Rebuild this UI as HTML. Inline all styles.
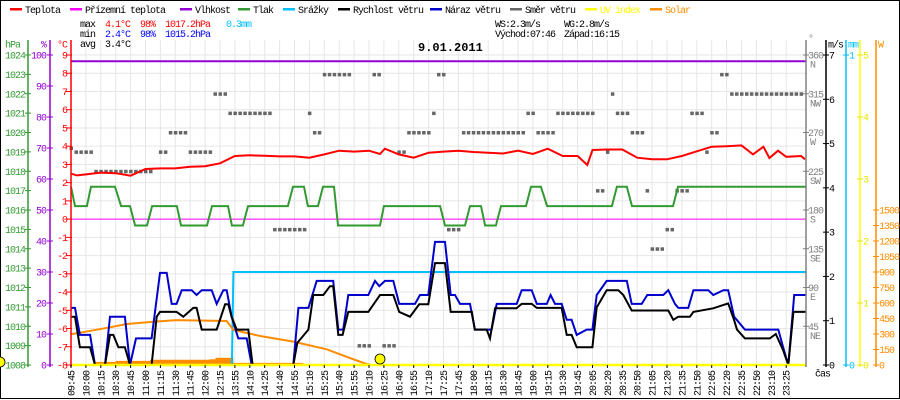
<!DOCTYPE html>
<html><head><meta charset="utf-8">
<style>
html,body{margin:0;padding:0;background:#fff;}
svg{display:block;}
text{font-family:"Liberation Mono",monospace;font-size:10px;letter-spacing:-1px;}
</style></head>
<body>
<svg id="chart" width="900" height="400" viewBox="0 0 900 400" xmlns="http://www.w3.org/2000/svg">
<rect x="0.5" y="0.5" width="899" height="398" fill="#fff" stroke="#000"/>
<g id="grid"></g>
<g id="series"></g>
<g id="axes"></g>
<g id="legend">
 <text x="418" y="51" style="font-size:12px;font-weight:bold;letter-spacing:0">9.01.2011</text>
 <text x="80" y="27">max</text>
 <text x="105" y="27" fill="#f00">4.1°C</text>
 <text x="140" y="27" fill="#f00">98%</text>
 <text x="165" y="27" fill="#f00">1017.2hPa</text>
 <text x="226" y="27" fill="#00bfff">0.3mm</text>
 <text x="80" y="37">min</text>
 <text x="105" y="37" fill="#00f">2.4°C</text>
 <text x="140" y="37" fill="#00f">98%</text>
 <text x="165" y="37" fill="#00f">1015.2hPa</text>
 <text x="80" y="47">avg</text>
 <text x="105" y="47">3.4°C</text>
 <text x="495" y="27">WS:2.3m/s</text>
 <text x="564" y="27">WG:2.8m/s</text>
 <text x="495" y="37">Východ:07:46</text>
 <text x="564" y="37">Západ:16:15</text>
</g>
</svg>
<script>
// ---- data ----
const timeLabels = ["09:45","10:00","10:15","10:30","10:45","11:00","11:15","11:30","11:45","12:00","12:15",
"13:55","14:10","14:25","14:40","14:55","15:10","15:25","15:40","15:55","16:10","16:25","16:40","16:55","17:10","17:25","17:45","18:00","18:15","18:30","18:45","19:00","19:15","19:30","19:45","20:05","20:20","20:35","20:50","21:05","21:20","21:35","21:50","22:05","22:20","22:35","22:50","23:10","23:25"];
const tempTimes = [0,0.4,1,2,3,4,5,6,7,8,9,10,11,12,13,14,15,16,17,18,19,20,20.74,21.07,22,23,24,25,26,27,28,29,30,31,32,33,34,34.65,35,36,37,38,39,40,41,42,43,44,45,45.77,46.47,46.87,47.45,48,49,49.26];
const tempValues = [2.49,2.4,2.45,2.55,2.52,2.38,2.75,2.78,2.78,2.87,2.9,3.06,3.46,3.5,3.47,3.44,3.44,3.37,3.55,3.75,3.7,3.75,3.57,3.86,3.55,3.37,3.64,3.7,3.75,3.68,3.64,3.6,3.75,3.57,3.86,3.46,3.46,2.97,3.79,3.82,3.82,3.37,3.28,3.28,3.46,3.72,3.97,4.0,4.04,3.55,3.97,3.35,3.75,3.42,3.46,3.28];
const groundTemp = 0;
const humidity = 98;
const pressTimes = [0,0.27,1.07,1.34,2.95,3.36,3.96,4.3,5.1,5.44,7.11,7.38,9.13,9.46,10.54,10.8,11.54,11.88,14.56,14.9,15.64,15.9,16.58,16.91,17.65,17.92,20.74,21.0,24.77,25.1,26.44,26.78,27.52,27.79,28.52,28.86,30.54,30.87,31.54,31.95,36.3,36.64,37.3,37.65,40.4,40.74,49.3];
const pressValues = [1017.2,1016.2,1016.2,1017.2,1017.2,1016.2,1016.2,1015.2,1015.2,1016.2,1016.2,1015.2,1015.2,1016.2,1016.2,1015.2,1015.2,1016.2,1016.2,1017.2,1017.2,1016.2,1016.2,1017.2,1017.2,1015.2,1015.2,1016.2,1016.2,1015.2,1015.2,1016.2,1016.2,1015.2,1015.2,1016.2,1016.2,1017.2,1017.2,1016.2,1016.2,1017.2,1017.2,1016.2,1016.2,1017.2,1017.2];
const rainTimes = [0,10.8,10.9,49.3];
const rainValues = [0,0,0.3,0.3];
const windTimes = [0,0.27,0.6,1.28,1.61,2.28,2.62,2.84,3.18,3.62,3.96,5.41,5.75,5.97,7.09,7.54,8.21,8.43,8.77,9.78,10.34,10.56,10.78,11.12,11.9,12.19,14.92,15.19,15.93,16.26,16.93,17.38,17.6,17.94,18.23,18.61,19.95,20.74,21.63,22.03,22.75,23.37,23.98,24.43,25.1,25.48,26.9,27.1,27.9,28.12,28.46,29.9,30.25,30.92,31.26,32.93,33.27,33.6,33.94,34.99,35.28,35.95,36.73,37.07,37.63,40.09,40.42,40.76,41.54,41.77,43.1,44.11,44.49,44.7,45.23,46.9,47.3,47.8,48.14,48.48,49.37];
const windValues = [1.09,1.09,0.4,0.4,0,0,0.68,0.68,0.4,0.4,0,0,1.09,1.2,1.2,1.09,1.29,1.29,0.8,0.8,1.37,1.37,1.09,0.8,0.8,0,0,0.5,0.8,1.58,1.58,1.78,1.78,0.68,0.68,1.2,1.2,1.58,1.58,1.2,1.09,1.37,1.37,2.3,2.3,1.2,1.2,0.8,0.8,0.6,1.28,1.28,1.38,1.38,1.29,1.29,0.68,0.68,0.4,0.4,1.3,1.69,1.69,1.58,1.23,1.23,1.02,1.09,1.09,1.2,1.28,1.39,1.03,0.8,0.6,0.6,0.7,0.33,0,1.2,1.2];
const gustTimes = [0,0.27,0.6,1.28,1.61,2.28,2.62,3.62,3.96,4.36,5.41,5.97,6.42,6.76,7.09,7.43,8.1,8.43,8.77,9.44,9.78,10.22,10.45,10.78,11.23,11.79,12.13,14.92,15.26,15.93,16.49,17.6,17.94,18.27,18.61,19.95,20.4,20.69,21.07,21.63,22.03,23.09,23.42,23.98,24.43,25.1,25.48,25.77,26.11,26.78,27.11,28.23,28.57,29.91,30.25,30.92,31.26,31.93,32.19,32.48,32.93,33.27,33.6,33.94,34.61,34.99,35.28,35.95,37.3,37.63,38.3,38.68,39.75,40.09,40.54,40.76,41.43,41.77,42.77,43.11,43.78,44.11,44.5,45.23,47.47,47.85,48.14,48.54,49.37];
const gustValues = [1.29,1.29,0.68,0.68,0,0,1.09,1.09,0,0.6,0.6,2.08,2.08,1.38,1.38,1.69,1.69,1.58,1.69,1.69,1.38,1.69,1.69,1.09,0.6,0.6,0,0,1.29,1.29,1.9,1.9,0.8,0.8,1.58,1.58,1.9,1.78,1.9,1.9,1.38,1.38,1.58,1.58,2.78,2.78,1.58,1.58,1.38,1.38,0.8,0.8,1.38,1.38,1.69,1.69,1.38,1.38,1.58,1.38,1.38,1.02,1.02,0.68,0.8,0.8,1.58,1.9,1.9,1.38,1.38,1.58,1.58,1.69,1.38,1.29,1.29,1.69,1.69,1.58,1.69,1.69,1.09,0.8,0.8,0.33,0,1.58,1.58];
const dirRunStart = [0,1,5,18,20,24,29,32,41,48,49,51,58,61,63,66,68,73,74,76,79,92,94,98,106,108,109,110,113,116,117,120,122,125,128,129,131,133];
const dirRunLen   = [1,4,12,2,4,5,3,9,7,1,2,6,3,2,3,2,5,1,2,3,13,2,4,8,2,1,1,3,3,1,3,2,3,3,1,2,2,15];
const dirRunDeg   = [252,247.5,225,247.5,270,247.5,315,292.5,157.5,292.5,270,337.5,22.5,337.5,22.5,247.5,270,292.5,337.5,157.5,270,292.5,270,292.5,202.5,247.5,315,292.5,270,202.5,135,157.5,202.5,292.5,247.5,270,337.5,315];
const solarTimes = [0,2.62,3.74,5.53,7.09,10.45,10.9,12.7,14.92,17.16,18.95,19.84,20.18];
const solarValues = [297,365,397,419,435,426,339,281,226,152,55,10,0];
const radTimes = [0,1.6,3,5.3,9.3,9.7,10.9,11.6,14.9,15.6];
const radValues = [10,30,40,50,55,70,20,20,20,0];
const tempTicks = [9,8,7,6,5,4,3,2,1,0,-1,-2,-3,-4,-5,-6,-7,-8];
const pressTicks = [1024,1023,1022,1021,1020,1019,1018,1017,1016,1015,1014,1013,1012,1011,1010,1009,1008];
const humTicks = [100,90,80,70,60,50,40,30,20,10,0];
const dirTicks = [360,315,270,225,180,135,90,45];
const dirNames = ["N","NW","W","SW","S","SE","E","NE"];
const windTicks = [0,1,2,3,4,5,6,7];
const rainTicks = [0,1];
const uvTicks = [0,1,2,3,4,5];
const solarTicks = [0,150,300,450,600,750,900,1050,1200,1350,1500];

// ---- scales ----
const X0=71, DX=14.9, YB=365, YT=55, H=YB-YT;
const xi = i => X0 + i*DX;
const xs = s => X0 + s*DX/3;
const yT = t => YB - (t+8)*H/17;
const yP = p => YB - (p-1008)*H/16;
const yH = h => YB - h*H/100;
const yW = w => YB - w*H/7;
const yMM = m => YB - m*H;
const yUV = u => YB - u*H/5;
const yD = d => YB - d*H/360;
const yS = w => YB - w*155/1500;

const NS="http://www.w3.org/2000/svg";
function mk(parent,tag,attrs){const e=document.createElementNS(NS,tag);for(const k in attrs)e.setAttribute(k,attrs[k]);parent.appendChild(e);return e;}
const grid=document.getElementById('grid'), ser=document.getElementById('series'), ax=document.getElementById('axes'), leg=document.getElementById('legend');

// grid
for(let i=0;i<timeLabels.length;i++){
  const l=mk(grid,'line',{x1:xi(i),x2:xi(i),y1:40,y2:YB,stroke:'#e6e6e6'});
  
  
}
tempTicks.forEach(t=>{
  const l=mk(grid,'line',{x1:X0,x2:806,y1:yT(t),y2:yT(t),stroke:'#e6e6e6'});
  
  
});

function pts(times,vals,fx,fy){return times.map((t,k)=>fx(t).toFixed(1)+','+fy(vals[k]).toFixed(1)).join(' ');}

// radiation fill
{
  let d='M'+xi(radTimes[0])+','+YB;
  radTimes.forEach((t,k)=>{d+=' L'+xi(t).toFixed(1)+','+yS(radValues[k]).toFixed(1); if(k<radTimes.length-1) d+=' L'+xi(radTimes[k+1]).toFixed(1)+','+yS(radValues[k]).toFixed(1);});
  d+=' L'+xi(radTimes[radTimes.length-1])+','+YB+' Z';
  const p=mk(ser,'path',{d:d,fill:'#ff8c00'});
  
  
}
// humidity
{const l=mk(ser,'line',{x1:X0,x2:806,y1:yH(humidity),y2:yH(humidity),stroke:'#9400d3','stroke-width':2});

}
// ground temp
{const l=mk(ser,'line',{x1:X0,x2:806,y1:yT(groundTemp),y2:yT(groundTemp),stroke:'#f0f','stroke-width':1});

}
// wind direction squares
dirRunStart.forEach((s0,r)=>{
  for(let k=0;k<dirRunLen[r];k++){
    const q=mk(ser,'rect',{x:(xs(s0+k)-1.5).toFixed(1),y:(yD(dirRunDeg[r])-1.5).toFixed(1),width:3.5,height:3.5,fill:'#666'});
    
    
  }
});
// pressure
{const p=mk(ser,'polyline',{points:pts(pressTimes,pressValues,xi,yP),fill:'none',stroke:'#339933','stroke-width':2});

}
// temperature
{const p=mk(ser,'polyline',{points:pts(tempTimes,tempValues,xi,yT),fill:'none',stroke:'#f00','stroke-width':2});

}
// rain
{const p=mk(ser,'polyline',{points:pts(rainTimes,rainValues,xi,yMM),fill:'none',stroke:'#00bfff','stroke-width':2});

}
// solar
{const p=mk(ser,'polyline',{points:pts(solarTimes,solarValues,xi,yS),fill:'none',stroke:'#ff8c00','stroke-width':2});

}
// gust
{const p=mk(ser,'polyline',{points:pts(gustTimes,gustValues,xi,yW),fill:'none',stroke:'#0000cc','stroke-width':2});

}
// wind
{const p=mk(ser,'polyline',{points:pts(windTimes,windValues,xi,yW),fill:'none',stroke:'#000','stroke-width':2});

}
// UV baseline
{const l=mk(ser,'line',{x1:X0,x2:806,y1:YB,y2:YB,stroke:'#ffff00','stroke-width':2.5});

}
// sun markers
{const c=mk(ser,'circle',{cx:380,cy:359,r:5,fill:'#ffff00',stroke:'#000','stroke-width':0.8});


const c2=mk(ser,'circle',{cx:0,cy:362,r:5,fill:'#ffff00',stroke:'#000','stroke-width':0.8});

}

// axes
function vaxis(x,color,name){const l=mk(ax,'line',{x1:x,x2:x,y1:40,y2:YB+2,stroke:color,'stroke-width':1.5});

}
function tick(x,y,color){mk(ax,'line',{x1:x-3,x2:x+3,y1:y,y2:y,stroke:color});}
function lbl(x,y,s,color,anchor,name){const t=mk(ax,'text',{x:x,y:y+3.5,fill:color,'text-anchor':anchor});t.textContent=s;

return t;}
vaxis(28,'#339933','pressure-axis'); vaxis(50,'#9400d3','humidity-axis'); vaxis(X0,'#f00','temperature-axis');
vaxis(806,'#808080','wind-direction-axis'); vaxis(826,'#000','wind-speed-axis'); vaxis(846,'#00bfff','precipitation-axis');
vaxis(860,'#ffff00','uv-axis'); vaxis(876,'#ff8c00','solar-axis');
pressTicks.forEach(p=>{tick(28,yP(p),'#339933');lbl(25,yP(p),String(p),'#339933','end','pressure-tick-label');});
humTicks.forEach(h=>{tick(50,yH(h),'#9400d3');lbl(46,yH(h),String(h),'#9400d3','end','humidity-tick-label');});
tempTicks.forEach(t=>{tick(X0-2,yT(t),'#f00');lbl(67,yT(t),String(t),'#f00','end','temperature-tick-label');});
dirTicks.forEach((d,k)=>{tick(806,yD(d),'#808080');lbl(808,yD(d),String(d),'#808080','start','wind-direction-tick-label');lbl(810,yD(d)+9,dirNames[k],'#808080','start','wind-direction-name');});
windTicks.forEach(w=>{tick(826,yW(w),'#000');lbl(829,yW(w),String(w),'#000','start','wind-speed-tick-label');});
rainTicks.forEach(m=>{tick(846,yMM(m),'#00bfff');lbl(849,yMM(m),String(m),'#00bfff','start','precipitation-tick-label');});
uvTicks.forEach(u=>{tick(860,yUV(u),'#e6e600');lbl(863,yUV(u),String(u),'#e6e600','start','uv-tick-label');});
solarTicks.forEach(w=>{tick(876,yS(w),'#ff8c00');lbl(879,yS(w),String(w),'#ff8c00','start','solar-tick-label');});
lbl(5,44,'hPa','#339933','start','pressure-axis-title');
lbl(41,44,'%','#9400d3','start','humidity-axis-title');
lbl(57,44,'°C','#f00','start','temperature-axis-title');
lbl(808,38,'°','#808080','start','wind-direction-axis-title');
lbl(828,44,'m/s','#000','start','wind-speed-axis-title');
lbl(848,44,'mm','#00bfff','start','precipitation-axis-title');
lbl(878,44,'W','#ff8c00','start','solar-axis-title');
lbl(815,373,'čas','#000','start','x-axis-title');
timeLabels.forEach((s,i)=>{
  mk(ax,'line',{x1:xi(i),x2:xi(i),y1:YB,y2:YB+3,stroke:'#000'});
  const t=mk(ax,'text',{x:0,y:0,transform:'translate('+(xi(i)+3.5)+',396) rotate(-90)',fill:'#000'});
  t.textContent=s;
  
  
});

// legend
const legNames=["Teplota","Přízemní teplota","Vlhkost","Tlak","Srážky","Rychlost větru","Náraz větru","Směr větru","UV index","Solar"];
const legColors=["#f00","#f0f","#9400d3","#339933","#00bfff","#000","#0000cc","#666","#ffff00","#ff8c00"];
const legX=[10,70,180,238,283,338,430,510,585,650];
legNames.forEach((n,k)=>{
  const g=mk(leg,'g',{});
  
  
  mk(g,'rect',{x:legX[k],y:8,width:12,height:2.5,fill:legColors[k]});
  const t=mk(g,'text',{x:legX[k]+15,y:13,fill:(k==8||k==9)?legColors[k]:'#000'});
  t.textContent=n;
});
</script>
</body></html>
